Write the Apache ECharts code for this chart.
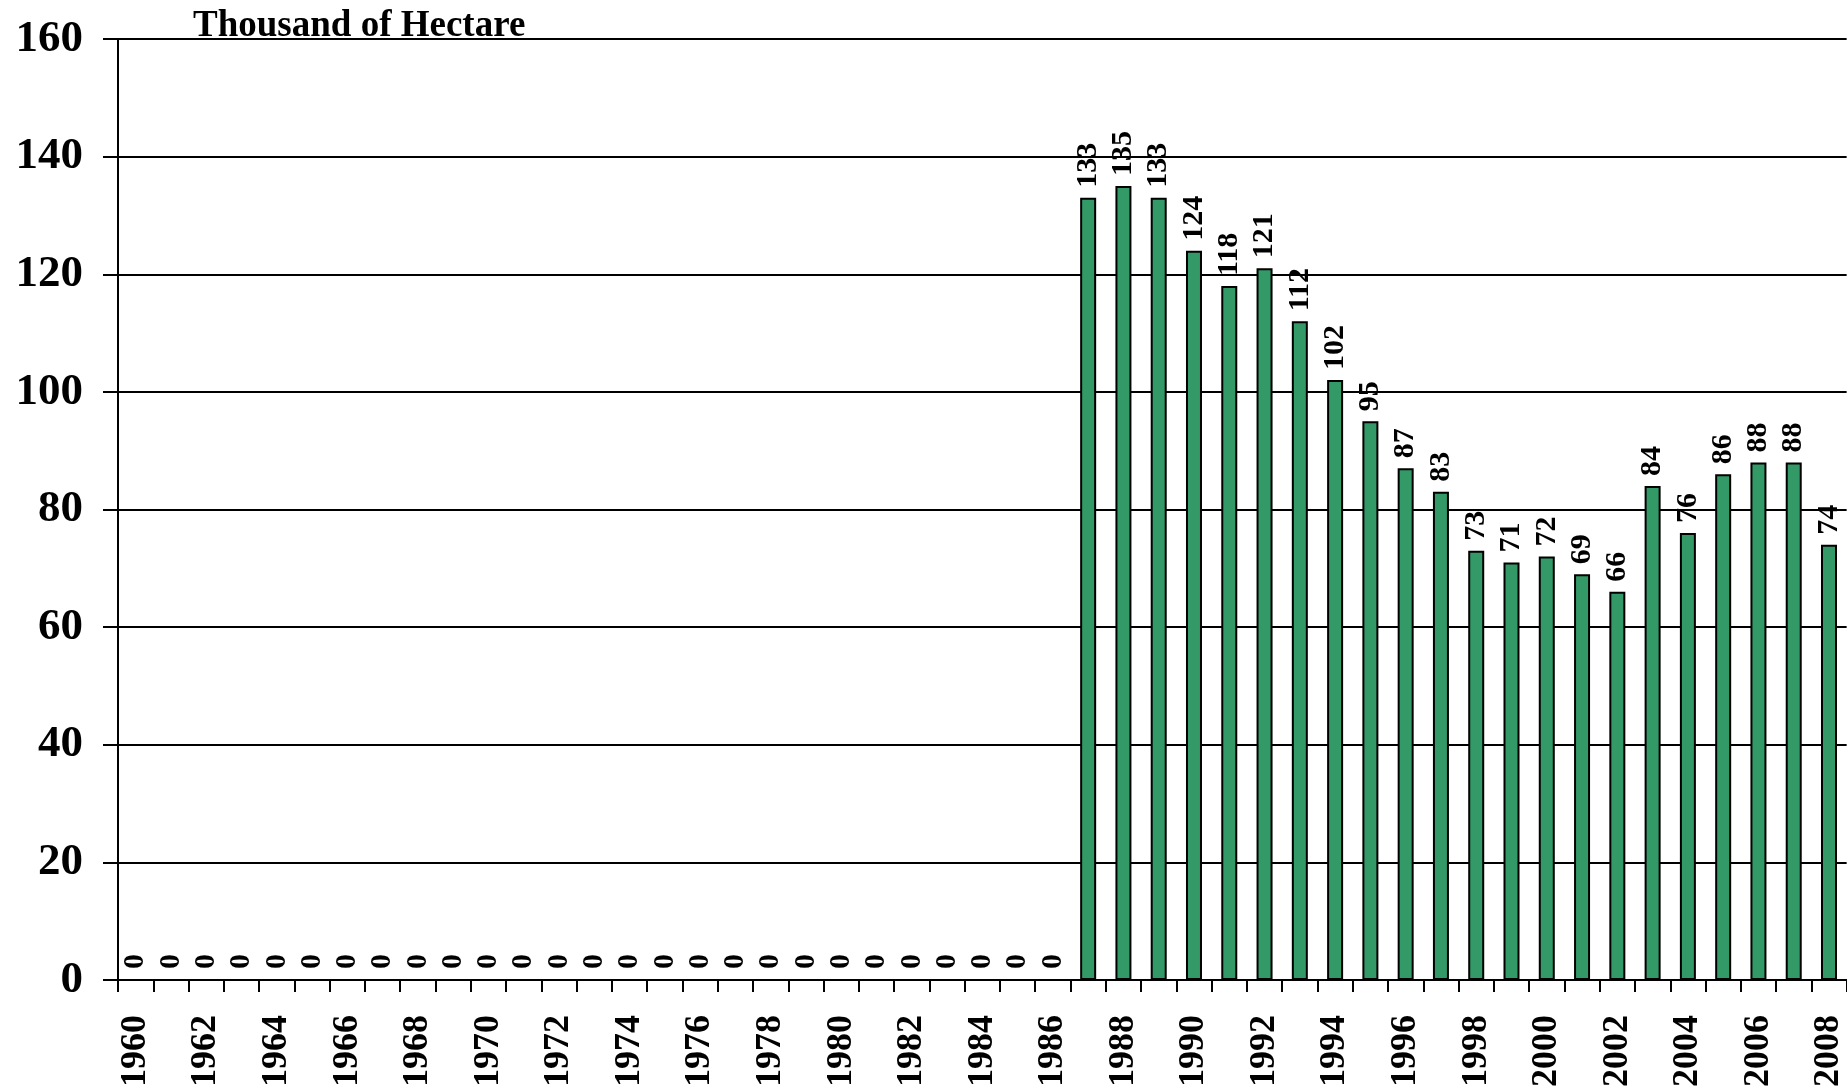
<!DOCTYPE html>
<html>
<head>
<meta charset="utf-8">
<script src="https://cdn.jsdelivr.net/npm/echarts@6/dist/echarts.min.js"></script>
<style>
html,body{margin:0;padding:0;background:#fff;}
#chart{width:1847px;height:1090px;}
</style>
</head>
<body>
<div id="chart"></div>
<script>
var years = [];
for (var y = 1960; y <= 2008; y++) { years.push(String(y)); }
var zeroYears = [0,0,0,0,0,0,0,0,0,0,0,0,0,0,0,0,0,0,0,0,0,0,0,0,0,0,0]; // 1960-1986
var laterValues = [133,135,133,124,118,121,112,102,95,87,83,73,71,72,69,66,84,76,86,88,88,74]; // 1987-2008
var values = zeroYears.concat(laterValues);
var yTicks = {min: 0, max: 160, interval: 20};
var titleText = 'Thousand of Hectare';

var font = 'Liberation Serif';
var chart = echarts.init(document.getElementById('chart'));
chart.setOption({
  animation: false,
  backgroundColor: '#ffffff',
  title: {
    text: titleText,
    left: 188,
    top: 3,
    textStyle: {fontFamily: font, fontWeight: 'bold', fontSize: 37, color: '#000'}
  },
  grid: {left: 118, right: 0, top: 39, bottom: 109, containLabel: false},
  xAxis: {
    type: 'category',
    data: years,
    axisLine: {show: true, lineStyle: {color: '#000', width: 2}},
    axisTick: {show: true, interval: 0, length: 12, lineStyle: {color: '#000', width: 2}},
    axisLabel: {interval: 1, rotate: 90, margin: 35, fontFamily: font, fontWeight: 'bold', fontSize: 36, color: '#000'},
    splitLine: {show: false}
  },
  yAxis: {
    type: 'value',
    min: yTicks.min, max: yTicks.max, interval: yTicks.interval,
    axisLine: {show: true, lineStyle: {color: '#000', width: 2}},
    axisTick: {show: true, length: 15, lineStyle: {color: '#000', width: 2}},
    axisLabel: {margin: 35, fontFamily: font, fontWeight: 'bold', fontSize: 45, color: '#000'},
    splitLine: {show: true, lineStyle: {color: '#000', width: 2}}
  },
  series: [{
    type: 'bar',
    data: values,
    barWidth: 16,
    itemStyle: {color: '#339966', borderColor: '#000', borderWidth: 2},
    label: {
      show: true,
      position: 'top',
      rotate: 90,
      align: 'left',
      verticalAlign: 'middle',
      distance: 10,
      fontFamily: font,
      fontWeight: 'bold',
      fontSize: 30,
      color: '#000'
    }
  }]
});
</script>
</body>
</html>
